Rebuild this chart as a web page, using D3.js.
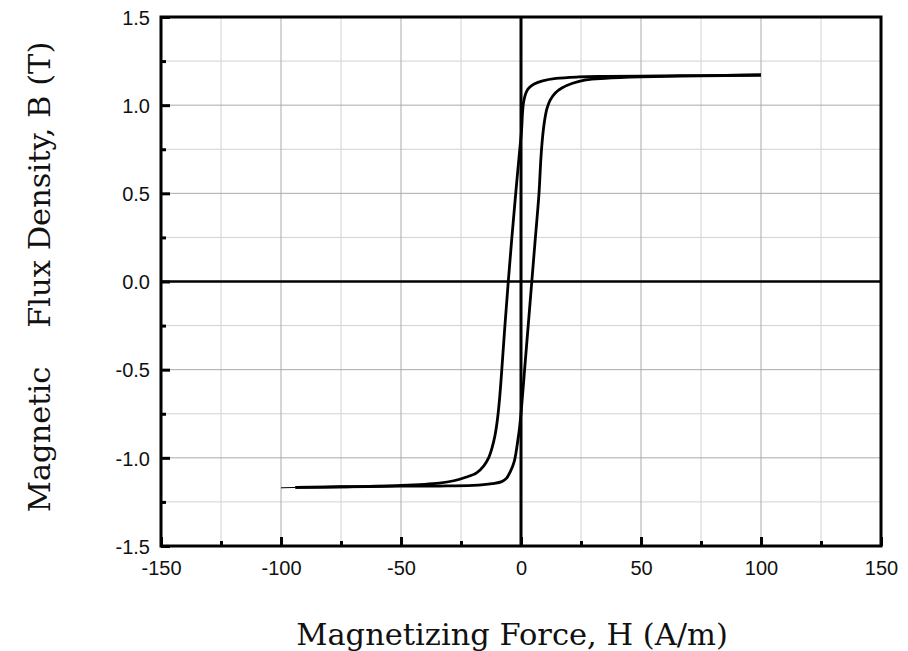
<!DOCTYPE html>
<html><head><meta charset="utf-8">
<script src="https://cdn.jsdelivr.net/npm/d3@7"></script>
<style>
html,body{margin:0;padding:0;background:#fff;}
svg{display:block;}
</style></head>
<body>
<svg id="chart" width="908" height="651"></svg>
<script>
// Data (H in A/m, B in T)
const xTicks = [-150, -100, -50, 0, 50, 100, 150];
const xMinorTicks = [-125, -75, -25, 25, 75, 125];
const yTicks = [-1.5, -1.0, -0.5, 0.0, 0.5, 1.0, 1.5];
const yMinorTicks = [-1.25, -0.75, -0.25, 0.25, 0.75, 1.25];

// descending branch (upper / left), from +H to -H
const descH = [100, 75, 50, 35, 24, 14.6, 9, 5.5, 3.5, 2.4, 1.6, 1.0, 0.6, 0.25, -0.5, -2.2, -3.8, -5.3, -6.7, -8.0, -8.9, -9.8, -10.8, -12, -13.5, -15.5, -18.5, -23, -28, -34, -50, -75, -94];
const descB = [1.171, 1.168, 1.165, 1.163, 1.16, 1.152, 1.138, 1.12, 1.1, 1.08, 1.05, 1.01, 0.95, 0.86, 0.75, 0.5, 0.25, 0.0, -0.25, -0.5, -0.66, -0.78, -0.87, -0.94, -1.0, -1.045, -1.085, -1.11, -1.13, -1.143, -1.156, -1.164, -1.168];

// ascending branch (lower / right), from -H to +H
const ascH = [-94, -75, -50, -34, -20, -12, -8, -6, -4.5, -2.8, -1.1, -0.7, 0, 1.5, 3.0, 4.5, 6, 7.5, 8.3, 9.0, 9.8, 10.8, 12.2, 14.2, 17, 21.5, 27, 35, 50, 75, 100];
const ascB = [-1.168, -1.165, -1.161, -1.16, -1.156, -1.146, -1.135, -1.115, -1.08, -1.02, -0.88, -0.84, -0.75, -0.5, -0.25, 0.0, 0.25, 0.5, 0.7, 0.82, 0.91, 0.98, 1.03, 1.068, 1.097, 1.124, 1.143, 1.152, 1.16, 1.166, 1.171];

// thin tail at the start of the loop
const tailH = [-100, -94];
const tailB = [-1.17, -1.168];

const xLabel = "Magnetizing Force, H (A/m)";
const yLabel = "Magnetic    Flux Density, B (T)";

const svg = d3.select("#chart");
const L = 161, R = 881, T = 17, Bt = 546;
const x = d3.scaleLinear().domain([-150, 150]).range([L, R]);
const y = d3.scaleLinear().domain([-1.5, 1.5]).range([Bt, T]);

// grid
const g = svg.append("g");
g.selectAll(".gxm").data(xMinorTicks).join("line")
  .attr("x1", d => x(d)).attr("x2", d => x(d)).attr("y1", T).attr("y2", Bt)
  .attr("stroke", "#d2d2d2").attr("stroke-width", 1);
g.selectAll(".gym").data(yMinorTicks).join("line")
  .attr("y1", d => y(d)).attr("y2", d => y(d)).attr("x1", L).attr("x2", R)
  .attr("stroke", "#d2d2d2").attr("stroke-width", 1);
g.selectAll(".gx").data(xTicks).join("line")
  .attr("x1", d => x(d)).attr("x2", d => x(d)).attr("y1", T).attr("y2", Bt)
  .attr("stroke", "#aaaaaa").attr("stroke-width", 1);
g.selectAll(".gy").data(yTicks).join("line")
  .attr("y1", d => y(d)).attr("y2", d => y(d)).attr("x1", L).attr("x2", R)
  .attr("stroke", "#aaaaaa").attr("stroke-width", 1);

// zero lines
svg.append("line").attr("x1", x(0)).attr("x2", x(0)).attr("y1", T).attr("y2", Bt)
  .attr("stroke", "#000").attr("stroke-width", 3);
svg.append("line").attr("y1", y(0)).attr("y2", y(0)).attr("x1", L).attr("x2", R)
  .attr("stroke", "#000").attr("stroke-width", 2.5);

// curves
const lineX = d3.line().x(d => x(d[0])).y(d => y(d[1])).curve(d3.curveCatmullRom.alpha(0.5));
const desc = descH.map((h, i) => [h, descB[i]]);
const asc = ascH.map((h, i) => [h, ascB[i]]);
const tail = tailH.map((h, i) => [h, tailB[i]]);
svg.append("path").datum(tail).attr("d", lineX).attr("fill", "none")
  .attr("stroke", "#000").attr("stroke-width", 1);
svg.append("path").datum(desc).attr("d", lineX).attr("fill", "none")
  .attr("stroke", "#000").attr("stroke-width", 2.8).attr("stroke-linejoin", "round");
svg.append("path").datum(asc).attr("d", lineX).attr("fill", "none")
  .attr("stroke", "#000").attr("stroke-width", 2.8).attr("stroke-linejoin", "round");

// axes (ticks inward)
const fmtX = d => String(d);
const fmtY = d => d.toFixed(1);
const xAxis = d3.axisBottom(x).tickValues(xTicks).tickSizeInner(-9).tickSizeOuter(0).tickFormat(fmtX);
const gx = svg.append("g").attr("transform", `translate(0,${Bt})`).call(xAxis);
const xMinor = d3.axisBottom(x).tickValues(xMinorTicks).tickSize(-5).tickFormat("");
const gxm = svg.append("g").attr("transform", `translate(0,${Bt})`).call(xMinor);
const yAxis = d3.axisLeft(y).tickValues(yTicks).tickSizeInner(-9).tickSizeOuter(0).tickFormat(fmtY);
const gy = svg.append("g").attr("transform", `translate(${L},0)`).call(yAxis);
const yMinor = d3.axisLeft(y).tickValues(yMinorTicks).tickSize(-5).tickFormat("");
const gym = svg.append("g").attr("transform", `translate(${L},0)`).call(yMinor);
[gx, gxm, gy, gym].forEach(a => {
  a.select(".domain").remove();
  a.selectAll(".tick line").attr("stroke", "#000").attr("stroke-width", 3);
  a.selectAll("text").attr("font-family", "'Liberation Sans', Arial, sans-serif")
    .attr("font-size", 20).attr("fill", "#111");
});
gx.selectAll("text").attr("dy", null).attr("y", 29);
gy.selectAll("text").attr("x", -11).attr("dy", "0.36em");

// frame
svg.append("rect").attr("x", L).attr("y", T).attr("width", R - L).attr("height", Bt - T)
  .attr("fill", "none").attr("stroke", "#000").attr("stroke-width", 3);

// titles
svg.append("text").attr("x", 512).attr("y", 645).attr("text-anchor", "middle")
  .attr("font-family", "'DejaVu Serif', serif").attr("font-size", 30.5).attr("fill", "#111")
  .text(xLabel);
svg.append("text").attr("transform", "translate(50,277) rotate(-90)").attr("text-anchor", "middle")
  .style("white-space", "pre")
  .attr("font-family", "'DejaVu Serif', serif").attr("font-size", 30.5).attr("fill", "#111")
  .text(yLabel);
</script>
</body></html>
